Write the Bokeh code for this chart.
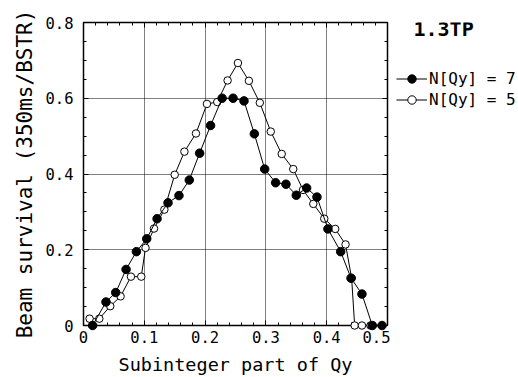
from bokeh.plotting import figure
from bokeh.layouts import row
from bokeh.models import (FixedTicker, LinearAxis, Legend, LegendItem, Label,
                          CustomJSTickFormatter)
from bokeh.embed import file_html
from bokeh.resources import INLINE

# Beam survival vs. subinteger tune, two N[Qy] settings
qy_n7 = [0.015, 0.037, 0.053, 0.070, 0.087, 0.104, 0.121, 0.139, 0.157, 0.174,
         0.191, 0.209, 0.228, 0.246, 0.264, 0.281, 0.298, 0.316, 0.333, 0.350,
         0.367, 0.384, 0.402, 0.423, 0.440, 0.458, 0.475, 0.491]
surv_n7 = [0.000, 0.062, 0.087, 0.148, 0.195, 0.229, 0.282, 0.324, 0.343, 0.384,
           0.455, 0.528, 0.600, 0.600, 0.593, 0.506, 0.413, 0.377, 0.373, 0.344,
           0.363, 0.339, 0.255, 0.195, 0.125, 0.083, 0.000, 0.000]

qy_n5 = [0.010, 0.026, 0.044, 0.061, 0.078, 0.095, 0.102, 0.116, 0.133, 0.150,
         0.166, 0.185, 0.203, 0.220, 0.237, 0.254, 0.272, 0.290, 0.308, 0.326,
         0.345, 0.361, 0.378, 0.396, 0.414, 0.431, 0.441, 0.446, 0.458, 0.472]
surv_n5 = [0.018, 0.018, 0.051, 0.077, 0.129, 0.129, 0.205, 0.256, 0.306, 0.398,
           0.459, 0.507, 0.585, 0.590, 0.647, 0.693, 0.646, 0.588, 0.512, 0.453,
           0.413, 0.358, 0.321, 0.282, 0.255, 0.214, 0.125, 0.000, 0.000, 0.000]

series_labels = ["N[Qy] = 7", "N[Qy] = 5"]
panel_title = "1.3TP"

x_ticks = [0, 0.1, 0.2, 0.3, 0.4, 0.5]
x_tick_labels = ["0", "0.1", "0.2", "0.3", "0.4", "0.5"]
x_minor_ticks = [round(0.02 * i, 2) for i in range(26)]
y_ticks = [0, 0.2, 0.4, 0.6, 0.8]
y_tick_labels = ["0", "0.2", "0.4", "0.6", "0.8"]
y_minor_ticks = [round(0.05 * i, 2) for i in range(17)]

FONT = "DejaVu Sans Mono"

p = figure(width=390, height=377, x_range=(0, 0.5), y_range=(0, 0.8),
           output_backend="svg", toolbar_location=None,
           min_border_left=83, min_border_right=3,
           min_border_top=22, min_border_bottom=52)
p.background_fill_color = "white"
p.border_fill_color = "white"
p.outline_line_color = "black"
p.outline_line_width = 1.5

xt = FixedTicker(ticks=x_ticks, minor_ticks=x_minor_ticks)
yt = FixedTicker(ticks=y_ticks, minor_ticks=y_minor_ticks)


def style_axis(ax, ticker, labels=None):
    ax.ticker = ticker
    ax.axis_line_color = None
    ax.major_tick_in = 5
    ax.major_tick_out = 0
    ax.minor_tick_in = 3
    ax.minor_tick_out = 0
    ax.major_tick_line_color = "black"
    ax.minor_tick_line_color = "black"
    if labels is None:
        # mirrored tick marks only
        ax.formatter = CustomJSTickFormatter(code="return ''")
        ax.major_label_standoff = 0
    else:
        ax.major_label_overrides = labels
        ax.major_label_text_font = FONT
        ax.major_label_text_font_size = "15.5px"
        ax.major_label_text_color = "black"


style_axis(p.xaxis[0], xt, dict(zip(x_ticks, x_tick_labels)))
style_axis(p.yaxis[0], yt, dict(zip(y_ticks, y_tick_labels)))
p.xaxis[0].major_label_standoff = 5
p.yaxis[0].major_label_standoff = 10

p.xaxis[0].axis_label = "Subinteger part of Qy"
p.yaxis[0].axis_label = "Beam survival (350ms/BSTR)"
for ax, size in ((p.xaxis[0], "18.5px"), (p.yaxis[0], "21px")):
    ax.axis_label_text_font = FONT
    ax.axis_label_text_font_size = size
    ax.axis_label_text_font_style = "normal"
    ax.axis_label_text_color = "black"
p.xaxis[0].axis_label_standoff = 8
p.yaxis[0].axis_label_standoff = 6

top_ax = LinearAxis()
style_axis(top_ax, xt)
p.add_layout(top_ax, "above")
right_ax = LinearAxis()
style_axis(right_ax, yt)
p.add_layout(right_ax, "right")

for g, t in ((p.xgrid[0], xt), (p.ygrid[0], yt)):
    g.ticker = t
    g.grid_line_color = "black"
    g.grid_line_dash = "1 1"
    g.grid_line_width = 1


def draw_series(fig, xs, ys, filled, **kw):
    ln = fig.line(xs, ys, line_color="black", line_width=1, **kw)
    mk = fig.scatter(xs, ys, marker="circle", size=8.5 if filled else 7.5,
                     fill_color="black" if filled else "white",
                     line_color="black", line_width=1, **kw)
    return ln, mk


# N[Qy] = 5 (open) first, N[Qy] = 7 (filled) on top
draw_series(p, qy_n5, surv_n5, False, level="overlay")
draw_series(p, qy_n7, surv_n7, True, level="overlay")

# Key panel to the right of the plot frame; its frame lines up with the plot frame
key = figure(width=128, height=377, x_range=(0, 1), y_range=(0, 1),
             output_backend="svg", toolbar_location=None,
             x_axis_type=None, y_axis_type=None,
             min_border=0, outline_line_color=None)
key.background_fill_color = "white"
key.border_fill_color = "white"

# hidden copies of the series, used only as legend glyph sources
k7 = draw_series(key, qy_n7, surv_n7, True, visible=False)
k5 = draw_series(key, qy_n5, surv_n5, False, visible=False)

legend = Legend(items=[LegendItem(label=series_labels[0], renderers=list(k7)),
                       LegendItem(label=series_labels[1], renderers=list(k5))],
                location=(6, 215), padding=0, margin=0, spacing=0,
                glyph_width=31, glyph_height=21, label_standoff=2,
                label_text_font=FONT, label_text_font_size="16px",
                label_text_color="black", border_line_color=None,
                background_fill_alpha=0, click_policy="none",
                inactive_fill_alpha=0)
key.add_layout(legend, "center")

key.add_layout(Label(x=23, y=297, x_units="screen", y_units="screen",
                     text=panel_title, text_font=FONT, text_font_size="20px",
                     text_font_style="bold", text_color="black",
                     text_baseline="alphabetic"))

layout = row(p, key)
open("out.html", "w").write(file_html(layout, INLINE))
